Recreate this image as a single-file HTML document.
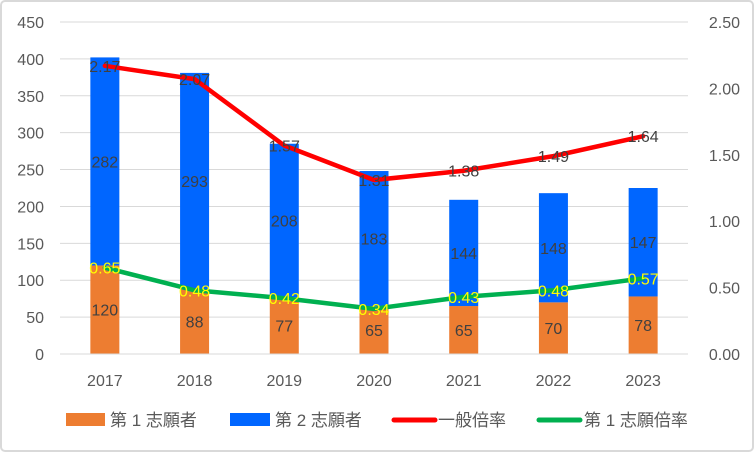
<!DOCTYPE html>
<html><head><meta charset="utf-8"><style>
body{margin:0;background:#fff}
svg text{font-family:"Liberation Sans","Noto Sans CJK JP",sans-serif}
</style></head><body>
<svg width="754" height="452">
<rect x="1" y="1" width="752" height="450" rx="4" fill="#fff" stroke="#d9d9d9" stroke-width="2"/>
<g id="grid"></g><g id="bars"></g><g id="lines"></g><g id="labels"></g><g id="axes"></g>
<g font-size="17" fill="#595959">
<rect x="66" y="413" width="39" height="13" fill="#ed7d31"/>
<text x="110" y="426" fill="#595959">第 1 志願者</text>
<rect x="230" y="413" width="40" height="13" fill="#0066ff"/>
<text x="275" y="426" fill="#595959">第 2 志願者</text>
<line x1="394" y1="420" x2="435" y2="420" stroke="#ff0000" stroke-width="5" stroke-linecap="round"/>
<text x="438" y="426" fill="#595959">一般倍率</text>
<line x1="539" y1="420" x2="580" y2="420" stroke="#00b050" stroke-width="5" stroke-linecap="round"/>
<text x="584" y="426" fill="#595959">第 1 志願倍率</text>
</g>
</svg>
<script>
const categories=["2017","2018","2019","2020","2021","2022","2023"];
const firstChoice=[120,88,77,65,65,70,78];
const secondChoice=[282,293,208,183,144,148,147];
const generalRatio=[2.17,2.07,1.57,1.31,1.38,1.49,1.64];
const firstRatio=[0.65,0.48,0.42,0.34,0.43,0.48,0.57];
const leftTicks=[0,50,100,150,200,250,300,350,400,450];
const rightTicks=["0.00","0.50","1.00","1.50","2.00","2.50"];
const NS="http://www.w3.org/2000/svg";
const L=60,R=688,T=22,B=354;
const step=(R-L)/categories.length;
const x=i=>L+step*(i+0.5);
const yL=v=>B-(v/450)*(B-T);
const yR=v=>B-(v/2.5)*(B-T);
function mk(p,tag,a){const e=document.createElementNS(NS,tag);for(const k in a)e.setAttribute(k,a[k]);document.getElementById(p).appendChild(e);return e;}
leftTicks.forEach(v=>{
 if(v>0){const g=mk('grid','line',{x1:L,x2:R,y1:yL(v),y2:yL(v),stroke:'#d9d9d9','stroke-width':1});
 
 }
 const t=mk('axes','text',{x:44,y:yL(v)+6,'text-anchor':'end','font-size':16,fill:'#595959'});t.textContent=v;
 
 
});
rightTicks.forEach(s=>{
 const t=mk('axes','text',{x:740,y:yR(+s)+6,'text-anchor':'end','font-size':16,fill:'#595959'});t.textContent=s;
 
 
});
const ax=mk('axes','line',{x1:L,x2:R,y1:B,y2:B,stroke:'#d9d9d9','stroke-width':1});


const bw=29;
categories.forEach((c,i)=>{
 const t=mk('axes','text',{x:x(i),y:386,'text-anchor':'middle','font-size':16,fill:'#595959'});t.textContent=c;
 
 
 const b1=mk('bars','rect',{x:x(i)-bw/2,y:yL(firstChoice[i]),width:bw,height:B-yL(firstChoice[i]),fill:'#ed7d31'});
 
 
 const tot=firstChoice[i]+secondChoice[i];
 const b2=mk('bars','rect',{x:x(i)-bw/2,y:yL(tot),width:bw,height:yL(firstChoice[i])-yL(tot),fill:'#0066ff'});
 
 
 const l1=mk('labels','text',{x:x(i),y:(B+yL(firstChoice[i]))/2+6,'text-anchor':'middle','font-size':16,fill:'#404040'});l1.textContent=firstChoice[i];
 
 
 const l2=mk('labels','text',{x:x(i),y:(yL(firstChoice[i])+yL(tot))/2+6,'text-anchor':'middle','font-size':16,fill:'#404040'});l2.textContent=secondChoice[i];
 
 
 const l3=mk('labels','text',{x:x(i),y:yR(generalRatio[i])+6,'text-anchor':'middle','font-size':16,fill:'#404040'});l3.textContent=generalRatio[i].toFixed(2);
 
 
 const l4=mk('labels','text',{x:x(i),y:yR(firstRatio[i])+6,'text-anchor':'middle','font-size':16,fill:'#ffff00'});l4.textContent=firstRatio[i].toFixed(2);
 
 
});
const p1=mk('lines','polyline',{points:generalRatio.map((v,i)=>x(i)+','+yR(v)).join(' '),fill:'none',stroke:'#ff0000','stroke-width':4.5,'stroke-linejoin':'round','stroke-linecap':'round'});


const p2=mk('lines','polyline',{points:firstRatio.map((v,i)=>x(i)+','+yR(v)).join(' '),fill:'none',stroke:'#00b050','stroke-width':4.5,'stroke-linejoin':'round','stroke-linecap':'round'});


</script>
</body></html>
